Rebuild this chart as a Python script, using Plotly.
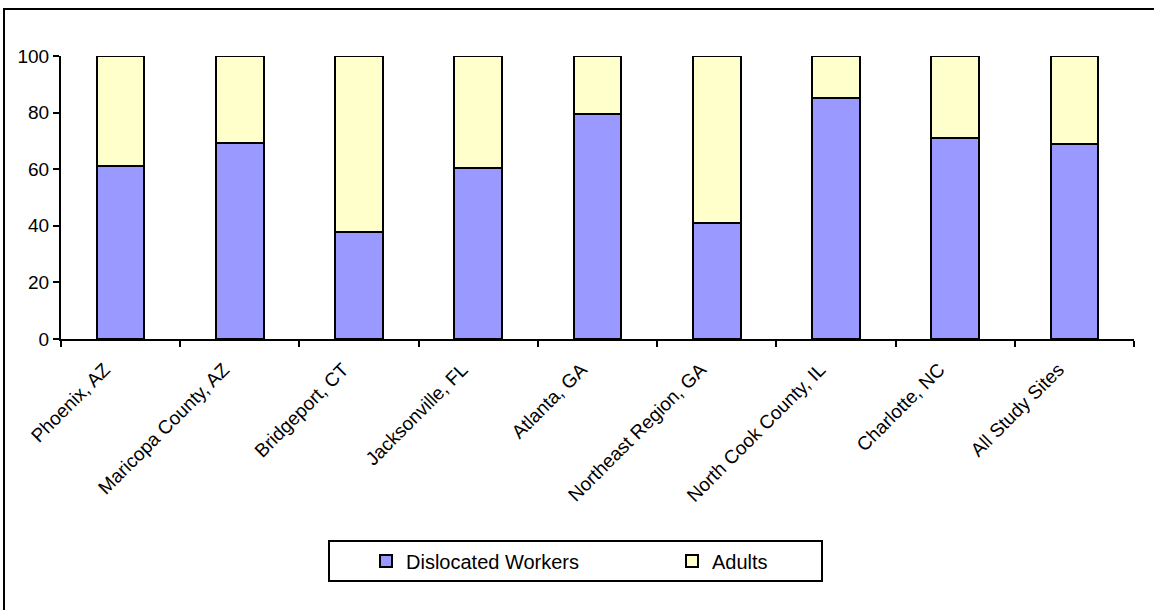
import plotly.graph_objects as go

sites = ["Phoenix, AZ", "Maricopa County, AZ", "Bridgeport, CT", "Jacksonville, FL",
         "Atlanta, GA", "Northeast Region, GA", "North Cook County, IL", "Charlotte, NC",
         "All Study Sites"]
dislocated = [61, 69.4, 37.8, 60.5, 79.4, 40.9, 85.3, 70.9, 68.8]
adults = [round(100 - v, 1) for v in dislocated]

W, H = 1154, 610
L, R, T, B = 61, 20, 56, 271
pw, ph = W - L - R, H - T - B

def px(x):
    return (x - L) / pw

def py(y):
    return (H - B - y) / ph

FONT = "Arial, Liberation Sans, sans-serif"

fig = go.Figure()
fig.add_trace(go.Bar(x=sites, y=dislocated, name="Dislocated Workers",
                     marker=dict(color="#9999FF", line=dict(color="black", width=2))))
fig.add_trace(go.Bar(x=sites, y=adults, name="Adults",
                     marker=dict(color="#FFFFCC", line=dict(color="black", width=2))))

fig.update_layout(
    barmode="stack", bargap=0.6,
    width=W, height=H,
    margin=dict(l=L, r=R, t=T, b=B),
    paper_bgcolor="white", plot_bgcolor="white",
    font=dict(family=FONT, size=19, color="black"),
    showlegend=True,
    legend=dict(orientation="h", x=px(366), xanchor="left", y=py(561), yanchor="middle",
                borderwidth=0, bgcolor="rgba(0,0,0,0)", font=dict(size=20),
                entrywidth=261, entrywidthmode="pixels", traceorder="normal"),
    shapes=[
        dict(type="rect", xref="paper", yref="paper", x0=px(329), x1=px(822),
             y0=py(581), y1=py(541), line=dict(color="black", width=2)),
        dict(type="rect", xref="paper", yref="paper", x0=px(4), x1=px(1170),
             y0=py(630), y1=py(9), line=dict(color="black", width=2)),
    ],
)
fig.update_xaxes(type="category", tickson="boundaries", ticks="outside", ticklen=6,
                 tickwidth=2, tickcolor="black", showline=True, linecolor="black",
                 linewidth=2, tickangle=-45, showgrid=False, tickfont=dict(size=19),
                 ticklabelshift=-16, ticklabelstandoff=10)
fig.update_yaxes(range=[0, 100], dtick=20, ticks="outside", ticklen=6, tickwidth=2,
                 tickcolor="black", showline=True, linecolor="black", linewidth=2,
                 showgrid=False, zeroline=False, tickfont=dict(size=19))

fig.write_html("out.html")
